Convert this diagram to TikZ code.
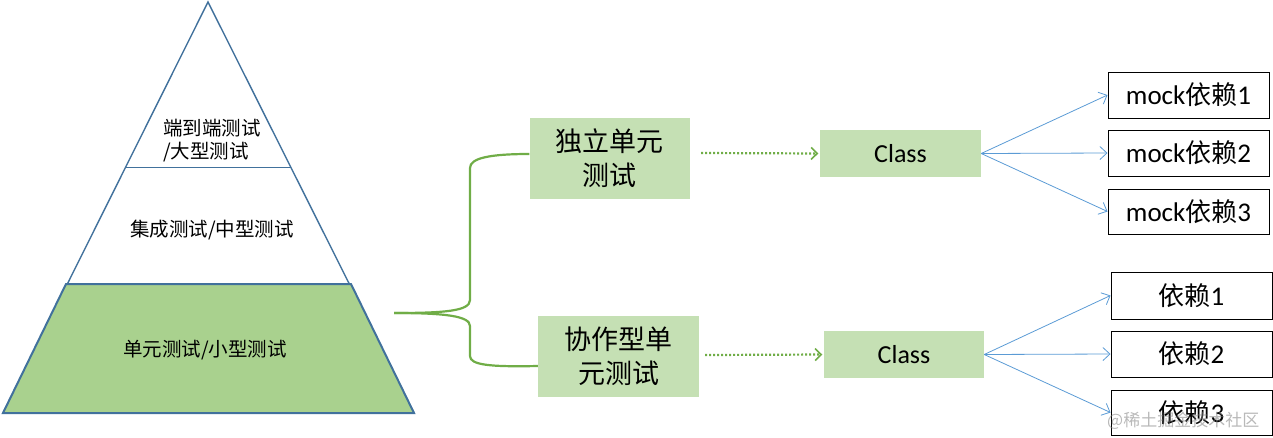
\documentclass[tikz,border=0pt]{standalone}
\usepackage{fontspec}
\setmainfont{Carlito}
\newfontfamily\cjk{Noto Sans CJK SC}
\usetikzlibrary{arrows.meta}
\definecolor{pyrline}{HTML}{41719C}
\definecolor{pyrgreen}{HTML}{A9D18E}
\definecolor{boxgreen}{HTML}{C5E0B4}
\definecolor{brgreen}{HTML}{70AD47}
\definecolor{arrblue}{HTML}{5B9BD5}
\tikzset{
  gbox/.style={fill=boxgreen, draw=none, inner sep=0pt, align=center},
  wbox/.style={draw=black, line width=1pt, fill=white, inner sep=0pt},
  ptext/.style={font=\cjk\fontsize{19.5}{24}\selectfont, inner sep=0pt},
  btext/.style={font=\cjk\fontsize{27}{34}\selectfont},
  ltext/.style={font=\fontsize{26}{30}\selectfont},
  bluearr/.style={draw=arrblue, line width=0.8pt, -{Straight Barb[length=7pt,width=13pt,line width=0.8pt]}},
  dotarr/.style={draw=brgreen, line width=2.2pt, dash pattern=on 2pt off 2pt, -{Straight Barb[length=6pt,width=12pt,line width=1.6pt,sep]}},
  bracel/.style={draw=brgreen, line width=2.2pt}
}
\newcommand{\mk}[1]{{\fontsize{27}{30}\selectfont mock}{\cjk\fontsize{26}{30}\selectfont 依赖}{\fontsize{27}{30}\selectfont #1}}
\newcommand{\dep}[1]{{\cjk\fontsize{26}{30}\selectfont 依赖}{\fontsize{27}{30}\selectfont #1}}
\begin{document}
\begin{tikzpicture}[x=1pt,y=-1pt]
\useasboundingbox (0,0) rectangle (1273,437);
% pyramid
\draw[pyrline, line width=1.4pt, fill=white, line join=miter] (208,2) -- (414,413) -- (3,413) -- cycle;
\draw[pyrline, line width=2pt, fill=pyrgreen] (66,284) -- (351,284) -- (414,413) -- (3,413) -- cycle;
\draw[pyrline, line width=1pt] (125.5,167) -- (290.5,167);
\node[ptext, anchor=west] (p1a) at (163,128) {端到端测试};
\node[ptext, anchor=west] (p1b) at (163,152) {/大型测试};
\node[ptext] (p2) at (212,230) {集成测试/中型测试};
\node[ptext] (p3) at (205,350) {单元测试/小型测试};
% unit test boxes
\node[gbox, btext, minimum width=160, minimum height=81] (ind) at (609.5,158.5) {独立单元\\测试};
\node[gbox, btext, minimum width=161, minimum height=81] (col) at (618.5,356.5) {协作型单\\元测试};
% brace
\coordinate (br) at (394,313);
\draw[bracel] (br) .. controls (445,313) and (470,311) .. (470,300) -- (470,168) .. controls (470,158) and (490,154) .. (ind.west |- 0,154);
\draw[bracel] (br) .. controls (445,313) and (470,316) .. (470,326) -- (470,356) .. controls (470,365) and (490,367) .. (col.west |- 0,366);
% class boxes
\node[gbox, ltext, minimum width=161, minimum height=47] (c1) at (900.5,153.5) {Class};
\node[gbox, ltext, minimum width=160, minimum height=47] (c2) at (904,354.5) {Class};
\draw[dotarr] (701,153) -- (c1.west);
\draw[dotarr] (705,355) -- (c2.west);
% mock boxes
\node[wbox, minimum width=161, minimum height=46] (m1) at (1188.5,95) {\mk{1}};
\node[wbox, minimum width=161, minimum height=46] (m2) at (1188.5,153) {\mk{2}};
\node[wbox, minimum width=161, minimum height=45] (m3) at (1188.5,211.5) {\mk{3}};
\node[wbox, minimum width=161, minimum height=47] (d1) at (1191.5,295.5) {\dep{1}};
\node[wbox, minimum width=161, minimum height=46] (d2) at (1191.5,354) {\dep{2}};
\node[wbox, minimum width=161, minimum height=45] (d3) at (1191.5,412.5) {\dep{3}};
\foreach \t in {m1,m2,m3} \draw[bluearr] (c1.east) -- (\t.west);
\foreach \t in {d1,d2,d3} \draw[bluearr] (c2.east) -- (\t.west);
% watermark
\node[font=\cjk\fontsize{17}{20}\selectfont, text=gray, opacity=0.55, anchor=west, inner sep=0pt] (wm) at (1107,421) {@稀土掘金技术社区};
\end{tikzpicture}
\end{document}
